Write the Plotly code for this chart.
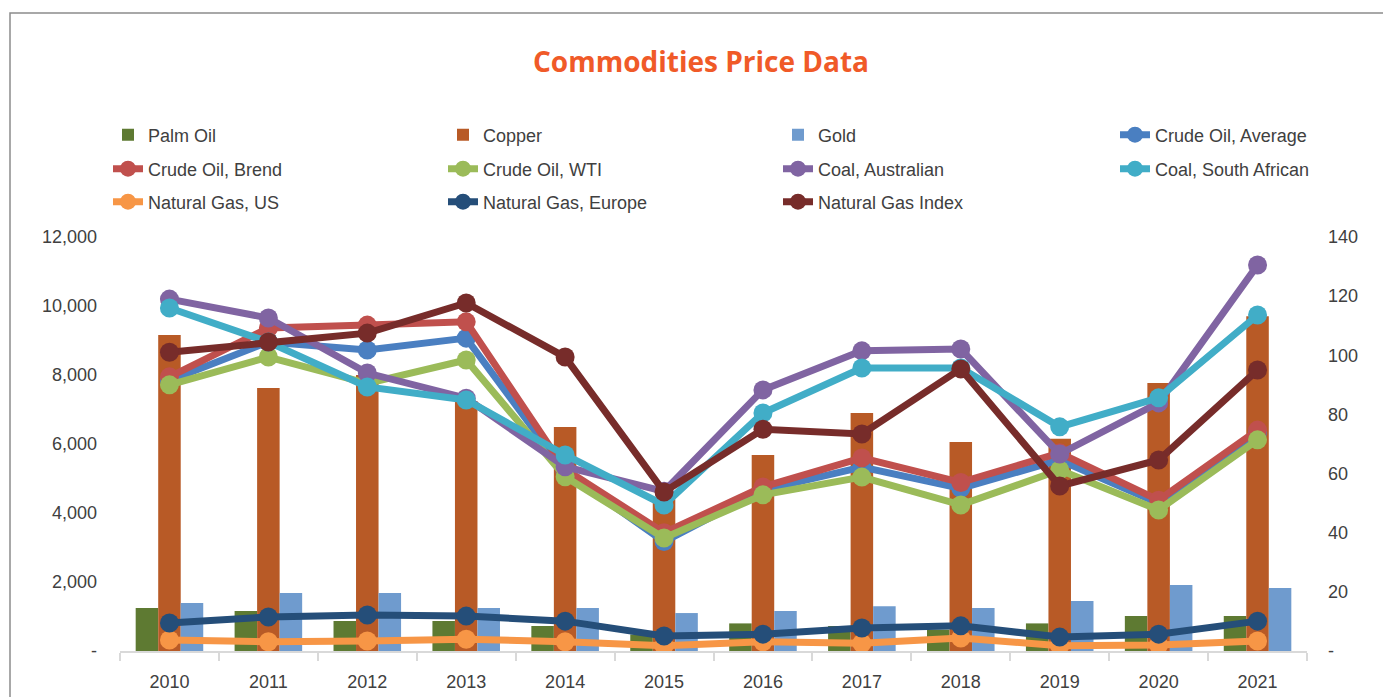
import plotly.graph_objects as go

years = [str(y) for y in range(2010, 2022)]

# Bars (left axis)
palm_oil = [1246, 1160, 870, 870, 725, 480, 800, 725, 620, 800, 1015, 1015]
copper = [9160, 7620, 8000, 7250, 6490, 4400, 5680, 6900, 6060, 6150, 7770, 9700]
gold = [1390, 1680, 1680, 1246, 1246, 1100, 1160, 1300, 1246, 1450, 1913, 1826]

# Lines (right axis)
crude_avg = [91.5, 104.5, 101.8, 105.8, 60.5, 37.0, 54.4, 62.2, 55.0, 64.6, 50.0, 74.0]
crude_brent = [92.7, 109.2, 110.2, 111.3, 61.5, 40.0, 55.5, 65.3, 57.0, 67.0, 51.0, 74.7]
crude_wti = [90.0, 99.4, 90.5, 98.4, 58.9, 38.2, 52.8, 58.8, 49.4, 61.2, 47.7, 71.4]
coal_aus = [119.0, 112.6, 94.0, 85.5, 62.3, 54.0, 88.3, 101.5, 102.1, 66.6, 83.9, 130.5]
coal_sa = [116.0, 104.5, 89.3, 84.9, 66.3, 49.4, 80.5, 95.7, 95.7, 75.8, 85.6, 113.6]
gas_us = [3.7, 3.1, 3.4, 4.0, 3.1, 1.8, 3.1, 2.6, 4.4, 1.8, 2.0, 3.4]
gas_europe = [9.5, 11.5, 12.2, 11.8, 10.1, 5.1, 5.7, 7.8, 8.5, 4.7, 5.7, 10.1]
gas_index = [101.0, 104.5, 107.5, 117.7, 99.4, 53.8, 75.0, 73.4, 95.4, 55.8, 64.6, 95.0]

left_ticks = [0, 2000, 4000, 6000, 8000, 10000, 12000]
left_labels = ["-", "2,000", "4,000", "6,000", "8,000", "10,000", "12,000"]
right_ticks = [0, 20, 40, 60, 80, 100, 120, 140]
right_labels = ["-", "20", "40", "60", "80", "100", "120", "140"]

bars = [
    ("Palm Oil", palm_oil, "#5E7A32", "legend"),
    ("Copper", copper, "#B85A26", "legend"),
    ("Gold", gold, "#6F9BCE", "legend"),
]
lines = [
    ("Crude Oil, Average", crude_avg, "#4A7FC1", "legend4"),
    ("Crude Oil, Brend", crude_brent, "#C0504D", "legend2"),
    ("Crude Oil, WTI", crude_wti, "#9BBB59", "legend2"),
    ("Coal, Australian", coal_aus, "#8064A2", "legend2"),
    ("Coal, South African", coal_sa, "#41ADC7", "legend5"),
    ("Natural Gas, US", gas_us, "#F79646", "legend3"),
    ("Natural Gas, Europe", gas_europe, "#254E79", "legend3"),
    ("Natural Gas Index", gas_index, "#772C2A", "legend3"),
]

fig = go.Figure()
for name, vals, color, lg in bars:
    fig.add_trace(go.Bar(x=years, y=vals, name=name, marker_color=color,
                         marker_line_width=0, legend=lg))
for name, vals, color, lg in lines:
    fig.add_trace(go.Scatter(x=years, y=vals, name=name, yaxis="y2", mode="lines+markers",
                             line=dict(color=color, width=7),
                             marker=dict(color=color, size=19), legend=lg))

L, R, T, B = 120, 76, 237, 46
pw = 1383 - L - R
ph = 697 - T - B

def px_x(px):
    return (px - L) / pw

def px_y(py):
    return (697 - B - py) / ph

leg_font = dict(family="Liberation Sans, Arial", size=18, color="#404040")
def leg(xl, yc, ew=290):
    return dict(orientation="h", x=px_x(xl), xanchor="left", y=px_y(yc), yanchor="middle",
                entrywidth=ew, entrywidthmode="pixels", font=leg_font,
                bgcolor="rgba(0,0,0,0)", traceorder="normal")

fig.update_layout(
    width=1383, height=697,
    margin=dict(l=L, r=R, t=T, b=B, autoexpand=False),
    paper_bgcolor="white", plot_bgcolor="white",
    barmode="group", bargap=0.317, bargroupgap=0,
    font=dict(family="Liberation Sans, Arial", size=18, color="#404040"),
    title=dict(text="Commodities Price Data", x=701 / 1383, xref="container", xanchor="center",
               y=1 - 62 / 697, yref="container", yanchor="middle",
               font=dict(family="Open Sans", size=28, color="#F05A28", weight="bold")),
    xaxis=dict(type="category", range=[-0.5, len(years) - 0.5], showline=True,
               linecolor="#D9D9D9", linewidth=2,
               ticks="outside", tickson="boundaries", ticklen=8, tickcolor="#D9D9D9",
               tickwidth=1.5, showgrid=False, ticklabelstandoff=13, automargin=False),
    yaxis=dict(range=[0, 12000], tickvals=left_ticks, ticktext=left_labels, showgrid=False,
               zeroline=False, showline=False, ticklabelstandoff=22, automargin=False),
    yaxis2=dict(overlaying="y", side="right", range=[0, 140], tickvals=right_ticks,
                ticktext=right_labels, showgrid=False, zeroline=False, showline=False,
                ticklabelstandoff=20, automargin=False),
    legend=leg(108, 135), legend2=leg(108, 169), legend3=leg(108, 202),
    legend4=leg(1115, 135, 0), legend5=leg(1115, 169, 0),
    shapes=[dict(type="rect", xref="paper", yref="paper", x0=px_x(10), x1=px_x(1400),
                 y0=px_y(710), y1=px_y(13), line=dict(color="#8C8C8C", width=1.5),
                 fillcolor="rgba(0,0,0,0)", layer="below")],
    showlegend=True,
)

fig.write_html("out.html", config={"displayModeBar": False},
               post_script="document.body.style.margin='0';")
